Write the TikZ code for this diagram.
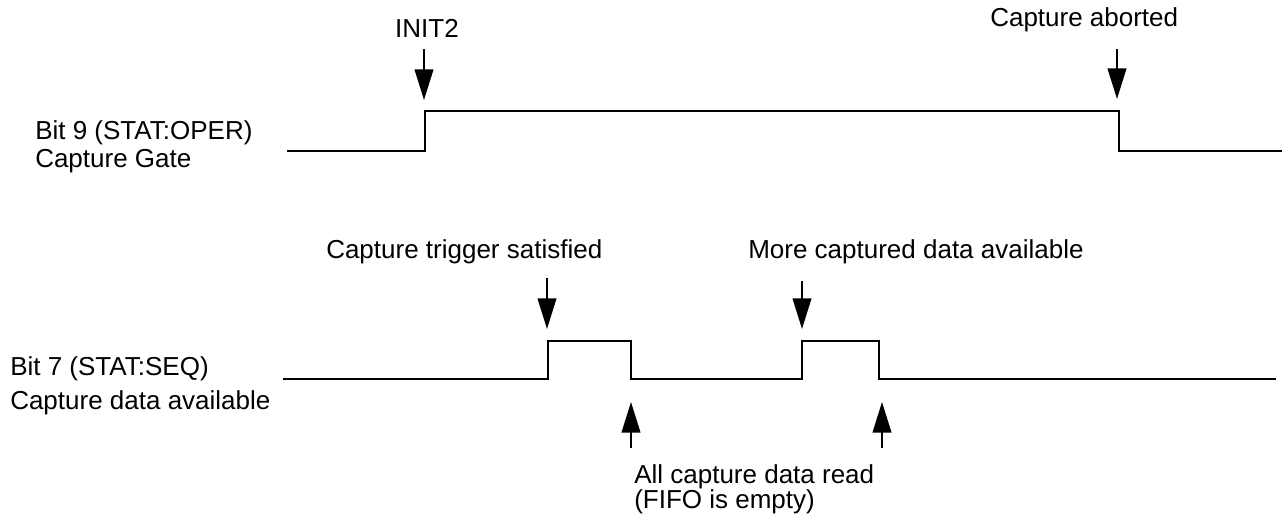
\documentclass[tikz,border=0pt]{standalone}
\usepackage{fontspec}
\setmainfont{Liberation Sans}
\usetikzlibrary{arrows.meta}
\begin{document}
\begin{tikzpicture}[x=0.75pt,y=-0.75pt,
  lbl/.style={inner sep=0pt,font=\fontsize{19.5}{23}\selectfont},
  signal/.style={line width=1.8pt,line join=miter},
  marker/.style={line width=1.5pt,-{Triangle[length=23pt,width=14pt]}}]
\useasboundingbox (0,0) rectangle (1286,517);
% labels
\node[lbl,anchor=base west] (b9) at (35,139) {Bit 9 (STAT:OPER)};
\node[lbl,anchor=base west] (cg) at (35,167) {Capture Gate};
\node[lbl,anchor=base west] (b7) at (10,375) {Bit 7 (STAT:SEQ)};
\node[lbl,anchor=base west] (cda) at (10,409) {Capture data available};
\node[lbl,anchor=base] (init) at (427,38) {INIT2};
\node[lbl,anchor=base west] (abort) at (990,27) {Capture aborted};
\node[lbl,anchor=base west] (trig) at (326,258) {Capture trigger satisfied};
\node[lbl,anchor=base west] (more) at (748,258) {More captured data available};
\node[lbl,anchor=base west] (read) at (634,483) {All capture data read};
\node[lbl,anchor=base west] (fifo) at (634,508) {(FIFO is empty)};
% signals
\draw[signal] (287,151) -- (425,151) -- (425,111) -- (1119,111) -- (1119,151) -- (1282,151);
\draw[signal] (283,379) -- (548,379) -- (548,341) -- (631,341) -- (631,379) -- (802,379) -- (802,341) -- (879,341) -- (879,379) -- (1276,379);
% arrow coordinates
\coordinate (a1s) at (424,49);  \coordinate (a1e) at (424,100);
\coordinate (a2s) at (1117,49); \coordinate (a2e) at (1117,99);
\coordinate (a3s) at (547,278); \coordinate (a3e) at (547,329);
\coordinate (a4s) at (802,281); \coordinate (a4e) at (802,329);
\coordinate (a5s) at (631,448); \coordinate (a5e) at (631,402);
\coordinate (a6s) at (882,448); \coordinate (a6e) at (882,402);
\draw[marker] (a1s) -- (a1e);
\draw[marker] (a2s) -- (a2e);
\draw[marker] (a3s) -- (a3e);
\draw[marker] (a4s) -- (a4e);
\draw[marker] (a5s) -- (a5e);
\draw[marker] (a6s) -- (a6e);
\end{tikzpicture}
\end{document}
